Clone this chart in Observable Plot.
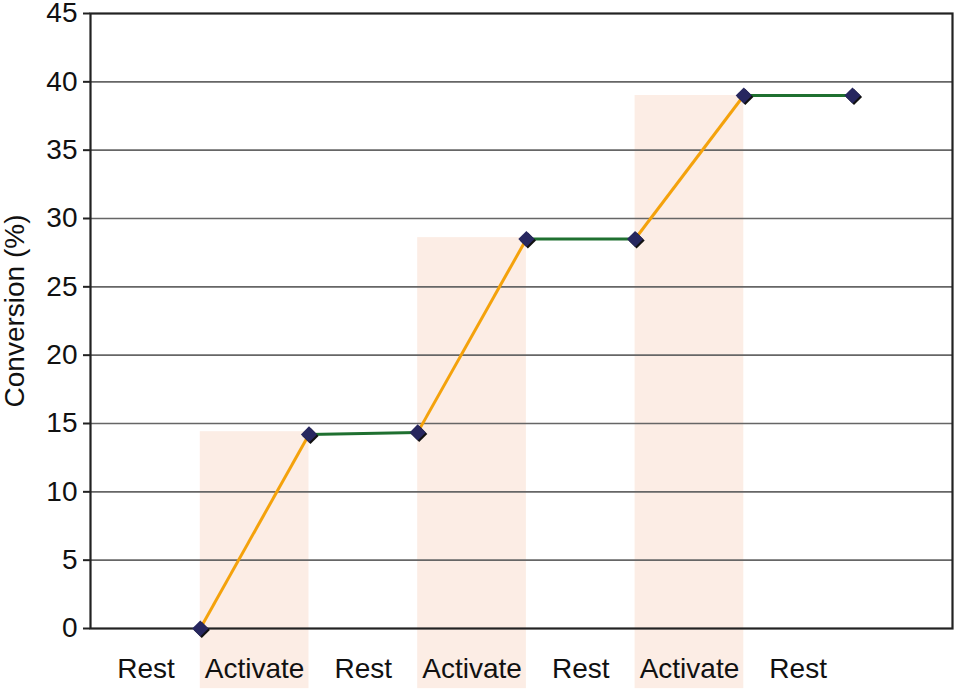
<!DOCTYPE html>
<html><head><meta charset="utf-8">
<script src="https://cdn.jsdelivr.net/npm/d3@7"></script>
<script src="https://cdn.jsdelivr.net/npm/@observablehq/plot@0.6"></script>
<style>
html,body{margin:0;padding:0;background:#fff;}
#chart svg{display:block;}
</style>
</head><body><div id="chart"></div>
<script>
const phases = ["Rest", "Activate", "Rest", "Activate", "Rest", "Activate", "Rest"];
const conversion = [0, 14.2, 14.35, 28.5, 28.5, 39.0, 39.0];
const activateTops = [14.4, 28.6, 39.0];
const yTicks = [0, 5, 10, 15, 20, 25, 30, 35, 40, 45];
const yLabel = "Conversion (%)";

const points = conversion.map((v, i) => ({i, v}));
const segments = conversion.slice(1).map((v, k) => ({
  x1: k, y1: conversion[k], x2: k + 1, y2: v, kind: phases[k + 1]
}));
const activateIdx = phases.map((p, i) => p === "Activate" ? i : -1).filter(i => i >= 0);
const bands = activateIdx.map((p, j) => ({x1: p - 1, x2: p, top: activateTops[j]}));
const labelPos = phases.map((_, i) => i - 0.5);

const font = "'Liberation Sans', Arial, Helvetica, sans-serif";

const chart = Plot.plot({
  width: 964,
  height: 693,
  marginLeft: 90,
  marginRight: 12,
  marginTop: 13,
  marginBottom: 65,
  style: {fontFamily: font, fontSize: "28px", color: "#111", background: "#fff"},
  x: {domain: [-1.01, 6.92]},
  y: {domain: [0, 45]},
  marks: [
    Plot.rect(bands, {x1: "x1", x2: "x2", y1: -4.4, y2: "top", fill: "#fcede5"}),
    Plot.ruleY(yTicks.slice(1, -1), {stroke: "#666", strokeWidth: 1.6}),
    Plot.frame({stroke: "#222", strokeWidth: 2.2}),
    Plot.axisY({ticks: yTicks, tickSize: 7, tickPadding: 6, fontSize: 28, label: null, stroke: "#222", strokeWidth: 2}),
    Plot.axisX({ticks: labelPos, tickSize: 0, tickPadding: 30, fontSize: 28, label: null,
      tickFormat: d => phases[Math.round(d + 0.5)]}),
    Plot.text([yLabel], {frameAnchor: "left", textAnchor: "middle", dx: -75, dy: -10, rotate: -90,
      text: d => d, fontSize: 28, fill: "#111"}),
    Plot.link(segments, {x1: "x1", y1: "y1", x2: "x2", y2: "y2",
      stroke: d => d.kind === "Activate" ? "#f4a20c" : "#1f7030", strokeWidth: 3}),
    Plot.dot(points, {x: "i", y: "v", symbol: "diamond2", r: 7.3, fill: "#111", dx: 1.5, dy: 1.5}),
    Plot.dot(points, {x: "i", y: "v", symbol: "diamond2", r: 7.3, fill: "#27275f"})
  ]
});
document.getElementById("chart").appendChild(chart);
</script>
</body></html>
